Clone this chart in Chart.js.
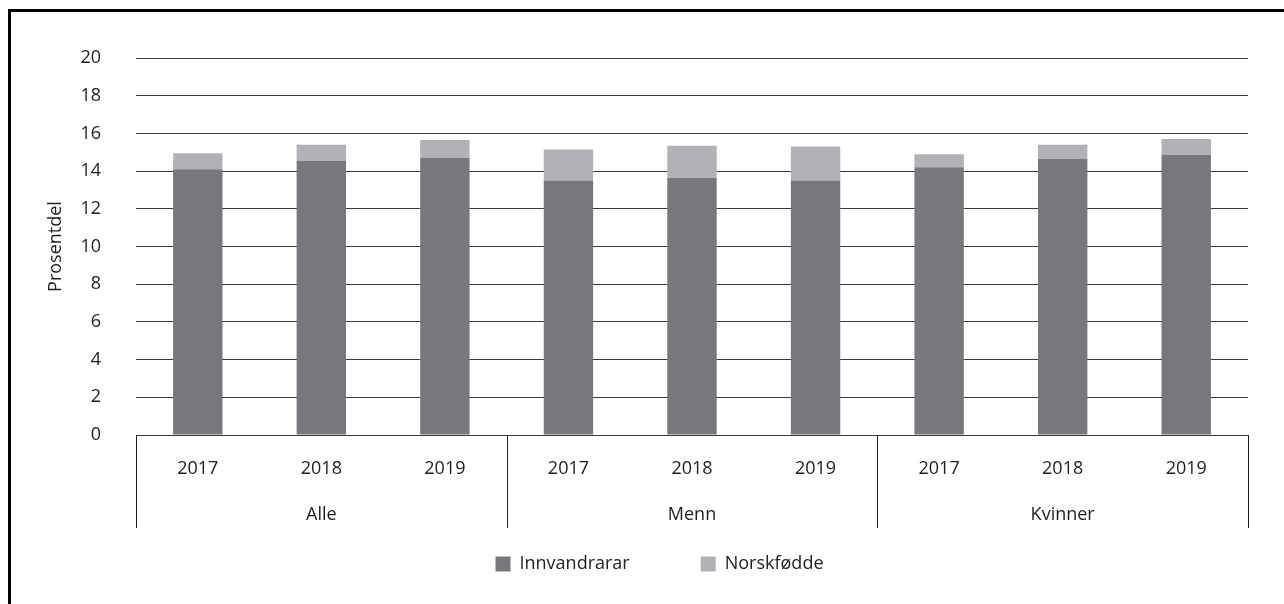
<html>
<head>
<script src="https://cdn.jsdelivr.net/npm/chart.js@4.4.0/dist/chart.umd.min.js"></script>
<style>
body { margin: 0; background: #fff; }
#frame { position: absolute; left: 8px; top: 9px; width: 1290px; height: 610px; border-top: 3px solid #000; border-left: 3px solid #000; }
#myChart { position: absolute; left: 0; top: 0; }
</style>
</head>
<body>
<div id="frame"></div>
<canvas id="myChart" width="1284" height="604"></canvas>
<script>
// data
const groups = ['Alle', 'Menn', 'Kvinner'];
const years = ['2017', '2018', '2019', '2017', '2018', '2019', '2017', '2018', '2019'];
const innvandrarar = [14.1, 14.55, 14.7, 13.5, 13.65, 13.5, 14.2, 14.65, 14.85];
const norskfodde = [0.85, 0.85, 0.95, 1.65, 1.7, 1.8, 0.7, 0.75, 0.85];
const yTicks = [0, 2, 4, 6, 8, 10, 12, 14, 16, 18, 20];

const textColor = '#1f1c1d';
const fontFam = '"Open Sans", sans-serif';

// vertical separators under the axis between the groups
const groupLines = {
    id: 'groupLines',
    afterDraw(chart) {
        const ctx = chart.ctx;
        const x = chart.scales.x;
        const x2 = chart.scales.x2;
        const per = years.length / groups.length;
        let xs = [];
        for (let g = 0; g <= groups.length; g++) {
            let i = g * per;
            let px;
            if (i == 0) px = x.left;
            else if (i >= years.length) px = x.right;
            else px = (x.getPixelForValue(i - 1) + x.getPixelForValue(i)) / 2;
            xs.push(Math.round(px) + 0.5);
        }
        ctx.save();
        ctx.strokeStyle = '#231f20';
        ctx.lineWidth = 1;
        ctx.beginPath();
        xs.forEach(px => {
            ctx.moveTo(px, chart.chartArea.bottom);
            ctx.lineTo(px, x2.bottom);
        });
        ctx.stroke();
        ctx.restore();
    }
};

// legend padding is large for the gap between items, so pull the box up a bit
const legendPlace = {
    id: 'legendPlace',
    afterLayout(chart) {
        const lg = chart.legend;
        const pad = lg.options.labels.padding;
        lg.top = chart.scales.x2.bottom + 27 - pad;
        lg.left += 15;
        lg.right += 15;
    }
};

let ctx = document.getElementById('myChart').getContext('2d');
let myChart = new Chart(ctx, {
    type: 'bar',
    data: {
        labels: years,
        datasets: [{
            label: 'Innvandrarar',
            data: innvandrarar,
            backgroundColor: '#77787b',
            barPercentage: 0.4,
            categoryPercentage: 1
        },
        {
            label: 'Norskfødde',
            data: norskfodde,
            backgroundColor: '#b1b2b5',
            barPercentage: 0.4,
            categoryPercentage: 1
        }]
    },
    options: {
        responsive: false,
        animation: false,
        layout: { padding: { left: 41, right: 36, top: 58, bottom: 10 } },
        plugins: {
            tooltip: { enabled: false },
            legend: {
                position: 'bottom',
                maxHeight: 66,
                labels: {
                    boxWidth: 15,
                    boxHeight: 15,
                    padding: 71,
                    color: textColor,
                    font: { family: fontFam, size: 18 }
                }
            }
        },
        scales: {
            x: {
                stacked: true,
                grid: { display: false },
                border: { display: false },
                ticks: { color: textColor, padding: 15, font: { family: fontFam, size: 18 } },
                afterFit(s) { s.height = 46; }
            },
            x2: {
                type: 'category',
                position: 'bottom',
                labels: groups,
                offset: true,
                grid: { display: false },
                border: { display: false },
                ticks: { color: textColor, padding: 15, font: { family: fontFam, size: 18 } },
                afterFit(s) { s.height = 47; }
            },
            y: {
                stacked: true,
                min: 0,
                max: 20,
                afterBuildTicks(s) { s.ticks = yTicks.map(v => ({ value: v })); },
                grid: { color: '#3a3a3a', lineWidth: 1, drawTicks: false },
                border: { display: false },
                ticks: { color: textColor, padding: 35, font: { family: fontFam, size: 18 } },
                title: { display: true, text: 'Prosentdel', color: textColor, font: { family: fontFam, size: 18 } },
                afterFit(s) { s.width = 95; }
            }
        }
    },
    plugins: [groupLines, legendPlace]
});
</script>
</body>
</html>
